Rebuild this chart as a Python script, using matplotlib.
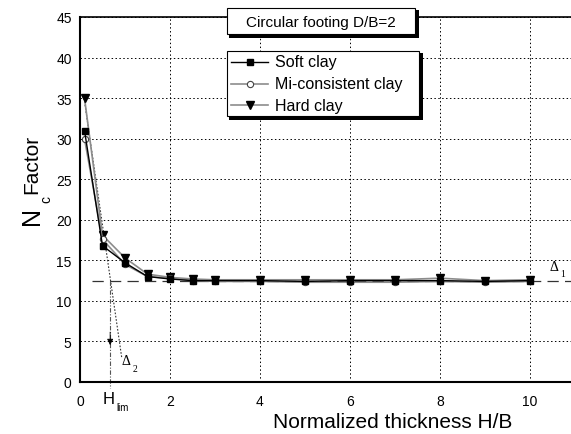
import matplotlib
matplotlib.use("Agg")
import matplotlib.pyplot as plt
from matplotlib.patches import Rectangle

plt.rcParams['font.family'] = ['Liberation Sans', 'DejaVu Sans']

# ---- data ----
hb = [0.1, 0.5, 1.0, 1.5, 2.0, 2.5, 3.0, 4, 5, 6, 7, 8, 9, 10]
soft_clay = [31.0, 16.8, 14.7, 13.0, 12.7, 12.5, 12.5, 12.5, 12.4, 12.5, 12.5, 12.5, 12.4, 12.5]
mi_clay = [30.0, 17.6, 14.5, 13.0, 12.8, 12.5, 12.4, 12.4, 12.3, 12.3, 12.3, 12.4, 12.3, 12.4]
hard_clay = [35.0, 18.1, 15.3, 13.3, 12.9, 12.7, 12.6, 12.6, 12.6, 12.6, 12.6, 12.8, 12.5, 12.6]
delta1 = 12.5
h_lim = 0.67
tangent_x = [0.09, 0.93]
tangent_y = [35.0, 2.9]
x_ticks = [0, 2, 4, 6, 8, 10]
y_ticks = [0, 5, 10, 15, 20, 25, 30, 35, 40, 45]

W, H = 571, 435
fig = plt.figure(figsize=(W / 100, H / 100), dpi=100)
ax = fig.add_axes([80 / W, 1 - 383 / H, 1 - 80 / W, 365 / H])
ax.set_xlim(0, (W - 80) / 45.0)
ax.set_ylim(0, 45)

ax.set_xticks(x_ticks)
ax.set_yticks(y_ticks)
ax.tick_params(length=0, labelsize=10, colors='black')
ax.tick_params(axis='x', pad=9)
ax.tick_params(axis='y', pad=6)
ax.grid(True, color='black', linestyle=(0, (1.5, 2.5)), linewidth=0.7)
ax.set_axisbelow(True)
for s in ['left', 'bottom']:
    ax.spines[s].set_linewidth(1.5)
ax.spines['top'].set_linewidth(1.2)
ax.spines['right'].set_visible(False)

# reference lines
ax.plot([0.27, ax.get_xlim()[1]], [delta1, delta1], color='#333333', lw=0.9,
        dashes=(9, 5), zorder=2)
ax.plot(tangent_x, tangent_y, color='#333333', lw=0.8, linestyle=(0, (1.5, 1.5)), zorder=2)
ax.plot([h_lim, h_lim], [delta1, -0.8], color='#555555', lw=0.8,
        linestyle=(0, (4, 1.5, 1, 1.5)), zorder=2, clip_on=False)
ax.annotate('', xy=(h_lim, 4.2), xytext=(h_lim, 6.5),
            arrowprops=dict(arrowstyle='-|>', color='black', lw=0.6,
                            mutation_scale=9))

# series
l_soft, = ax.plot(hb, soft_clay, color='black', lw=1.0, marker='s', ms=4,
                  mfc='black', mec='black', label='Soft clay', zorder=5)
l_mi, = ax.plot(hb, mi_clay, color='#8c8c8c', lw=1.2, marker='o', ms=4.5,
                mfc='white', mec='#444444', mew=0.8, label='Mi-consistent clay', zorder=4)
l_hard, = ax.plot(hb, hard_clay, color='#8c8c8c', lw=1.2, marker='v', ms=5.5,
                  mfc='black', mec='black', label='Hard clay', zorder=3)

# overlay axes in pixel coordinates for labels and boxes
ov = fig.add_axes([0, 0, 1, 1], zorder=10)
ov.set_xlim(0, W)
ov.set_ylim(H, 0)
ov.axis('off')
ov.patch.set_alpha(0)

ov.text(109, 400, 'H', fontsize=12, ha='center', va='center')
ov.text(116, 408, 'lim', fontsize=7, ha='left', va='center')
ov.text(393, 423, 'Normalized thickness H/B', fontsize=15, ha='center', va='center')
ov.text(32, 216, 'N', fontsize=18, rotation=90, ha='center', va='center')
ov.text(46, 200, 'c', fontsize=10, rotation=90, ha='center', va='center')
ov.text(32, 164, 'Factor', fontsize=15, rotation=90, ha='center', va='center')

# delta labels
ax.text(10.43, 14.3, 'Δ', fontsize=10, family='Liberation Serif', ha='left', va='center')
ax.text(10.68, 13.4, '1', fontsize=7, family='Liberation Serif', ha='left', va='center')
ax.text(0.93, 2.6, 'Δ', fontsize=10, family='Liberation Serif', ha='left', va='center')
ax.text(1.18, 1.7, '2', fontsize=7, family='Liberation Serif', ha='left', va='center')

def box(x0, y0, x1, y1, off=4):
    ov.add_patch(Rectangle((x0 + off, y0 + off), x1 - x0, y1 - y0,
                           facecolor='black', edgecolor='black', lw=0, zorder=5))
    ov.plot([x0 + off, x1 + off / 2, x1 + off / 2], [y1 + off / 2, y1 + off / 2, y0 + off],
            color='black', lw=off * 0.72, solid_joinstyle='miter', zorder=5.5)
    ov.add_patch(Rectangle((x0, y0), x1 - x0, y1 - y0,
                           facecolor='white', edgecolor='black', lw=0.8, zorder=6))

box(227, 9, 415, 35)
ov.text(321, 22.5, 'Circular footing D/B=2', fontsize=11, ha='center', va='center', zorder=7)

box(227, 52, 419, 117)
rows = [(63, l_soft), (84.5, l_mi), (106, l_hard)]
for yy, ln in rows:
    ov.plot([231, 268], [yy, yy], color=ln.get_color(), lw=ln.get_linewidth(), zorder=7)
    ov.plot([249.5], [yy], marker=ln.get_marker(), ms=ln.get_markersize(),
            mfc=ln.get_markerfacecolor(), mec=ln.get_markeredgecolor(),
            mew=ln.get_markeredgewidth(), linestyle='none', zorder=8)
    ov.text(275, yy, ln.get_label(), fontsize=11.5, ha='left', va='center', zorder=8)

fig.savefig('out.png', dpi=100)
